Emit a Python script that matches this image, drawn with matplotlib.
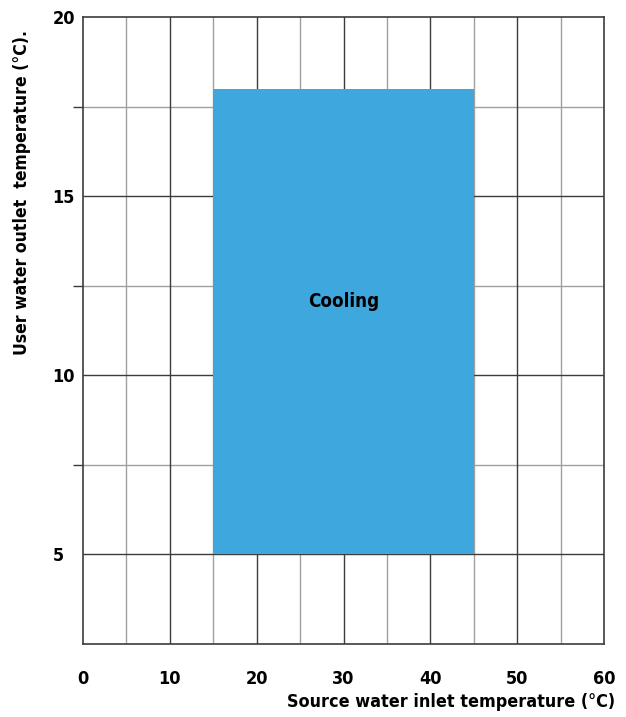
import matplotlib.pyplot as plt
from matplotlib.patches import Rectangle
from matplotlib import font_manager

# operating envelope (cooling)
x_range = [15, 45]
y_range = [5, 18]
region_label = "Cooling"

x_major = [0, 10, 20, 30, 40, 50, 60]
x_minor = [5, 15, 25, 35, 45, 55]
y_major = [5, 10, 15, 20]
y_minor = [7.5, 12.5, 17.5]

# pick a narrow bold face if one is around
names = {f.name for f in font_manager.fontManager.ttflist}
stretch = "normal"
if "Liberation Sans Narrow" in names:
    family = ["Liberation Sans Narrow", "DejaVu Sans"]
else:
    p = font_manager.findfont(font_manager.FontProperties(
        family="DejaVu Sans", stretch="condensed", weight="bold"))
    if "Condensed" in p:
        family = ["DejaVu Sans"]
        stretch = "condensed"
    else:
        family = ["Liberation Sans", "DejaVu Sans"]
plt.rcParams['font.family'] = family
plt.rcParams['font.stretch'] = stretch
plt.rcParams['font.weight'] = "bold"

fig = plt.figure(figsize=(6.26, 7.17), dpi=100)
ax = fig.add_axes([0.1326, 0.1018, 0.8323, 0.8745])

ax.set_xlim(0, 60)
ax.set_ylim(2.5, 20)

for v in x_minor:
    ax.axvline(v, color="#a0a0a0", lw=1.0, zorder=1)
for v in y_minor:
    ax.axhline(v, color="#a0a0a0", lw=1.0, zorder=1)
for v in x_major[1:-1]:
    ax.axvline(v, color="#3c3c3c", lw=1.0, zorder=1.5)
for v in y_major[:-1]:
    ax.axhline(v, color="#3c3c3c", lw=1.0, zorder=1.5)

ax.add_patch(Rectangle((x_range[0], y_range[0]), x_range[1] - x_range[0],
                       y_range[1] - y_range[0], facecolor="#3ea8de",
                       edgecolor="none", zorder=2))
t_reg = ax.text(sum(x_range) / 2, 12.05, region_label, ha="center",
                va="center", fontsize=14, fontweight="bold", zorder=3)

# ticks only where the grid lines run out past the frame
ax.set_xticks(x_major)
ax.set_xticks(x_major[1:-1], minor=True)
ax.set_yticks(y_major)
ax.set_yticks(y_major[:-1] + y_minor, minor=True)
ax.tick_params(axis="both", which="major", length=0, labelsize=13)
ax.tick_params(axis="both", which="minor", length=7, width=1,
               color="#3c3c3c")
ax.tick_params(axis="x", which="major", pad=19)
ax.tick_params(axis="y", which="major", pad=22)
for lab in ax.get_yticklabels():
    lab.set_ha("left")
for lab in ax.get_xticklabels() + ax.get_yticklabels():
    lab.set_fontweight("bold")

for s in ax.spines.values():
    s.set_color("#3c3c3c")
    s.set_linewidth(1.2)

t_x = fig.text(615 / 626, 1 - 702 / 717, "Source water inlet temperature (°C)",
               ha="right", va="center", fontsize=15, fontweight="bold")
t_y = fig.text(22 / 626, 1 - 30 / 717, "User water outlet  temperature (°C).",
               ha="center", va="top", rotation=90, fontsize=15,
               fontweight="bold")

# size the titles to their set lengths
r = fig.canvas.get_renderer()
for t, target, horiz in [(t_x, 328, True), (t_y, 326, False),
                         (t_reg, 72, True)]:
    bb = t.get_window_extent(r)
    cur = bb.width if horiz else bb.height
    t.set_fontsize(t.get_fontsize() * target / cur)

fig.savefig("out.png", dpi=100)
